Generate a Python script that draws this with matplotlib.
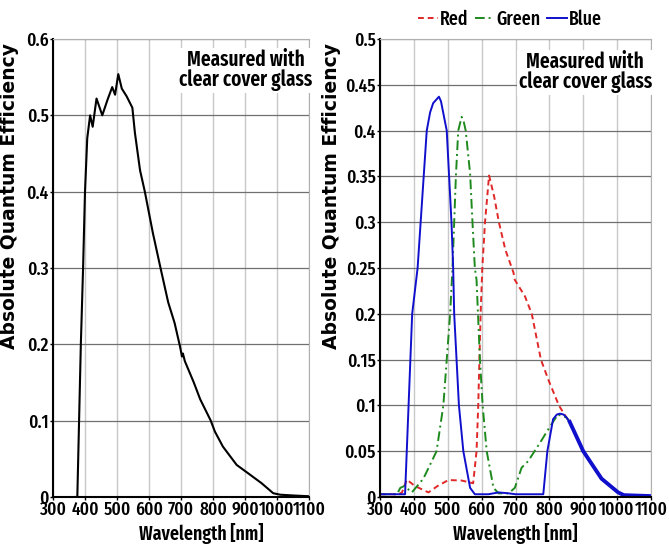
import matplotlib
matplotlib.use("Agg")
import matplotlib.pyplot as plt
import numpy as np

NARROW = ['Fira Sans Extra Condensed', 'DejaVu Sans']
plt.rcParams['font.family'] = NARROW

# left panel: mono sensor
mono_wl = [370, 376, 387, 394, 400, 407, 416, 424, 436, 454, 470, 485, 494, 504,
           515, 530, 548, 556, 572, 587, 612, 636, 660, 680, 697, 703, 706, 712,
           722, 740, 760, 793, 806, 831, 874, 910, 952, 988, 1010, 1050, 1100]
mono_qe = [0.0, 0.0, 0.2, 0.3, 0.4, 0.47, 0.50, 0.485, 0.522, 0.50, 0.52, 0.537, 0.527, 0.554,
           0.535, 0.525, 0.51, 0.477, 0.428, 0.40, 0.346, 0.30, 0.255, 0.228, 0.197, 0.184, 0.188, 0.178,
           0.168, 0.15, 0.128, 0.10, 0.0856, 0.066, 0.042, 0.031, 0.018, 0.005, 0.003, 0.002, 0.001]

# right panel: colour sensor
tail_wl = [860, 900, 954, 1003, 1020, 1060, 1100]
tail_qe = [0.082, 0.05, 0.02, 0.005, 0.002, 0.0015, 0.001]

blue_wl = [300, 370, 374, 395, 411, 438, 448, 457, 474, 480, 497, 511, 516, 519, 533, 546,
           566, 580, 620, 650, 680, 700, 782, 794, 811, 822, 831, 842, 850] + tail_wl
blue_qe = [0.003, 0.003, 0.003, 0.2, 0.25, 0.40, 0.42, 0.43, 0.437, 0.432, 0.40, 0.30, 0.25, 0.2, 0.1, 0.05,
           0.01, 0.003, 0.003, 0.005, 0.004, 0.003, 0.003, 0.05, 0.085, 0.09, 0.091, 0.09, 0.087] + tail_qe

green_wl = [300, 350, 360, 372, 394, 428, 467, 487, 507, 514, 524, 531, 541, 547, 553, 566,
            573, 580, 585, 595, 603, 615, 635, 650, 680, 698, 718, 737, 772, 802, 825, 850] + tail_wl
green_qe = [0.003, 0.003, 0.01, 0.012, 0.005, 0.02, 0.05, 0.1, 0.2, 0.25, 0.35, 0.40, 0.415, 0.41, 0.40, 0.353,
            0.30, 0.25, 0.237, 0.15, 0.1, 0.05, 0.01, 0.004, 0.004, 0.01, 0.032, 0.039, 0.059, 0.077, 0.09, 0.087] + tail_qe

red_wl = [300, 355, 365, 379, 403, 443, 470, 502, 541, 575, 585, 590, 597, 602, 610, 622,
          637, 651, 670, 694, 698, 728, 748, 775, 797, 828, 850] + tail_wl
red_qe = [0.003, 0.003, 0.005, 0.019, 0.012, 0.005, 0.012, 0.0185, 0.018, 0.015, 0.05, 0.1, 0.2, 0.25, 0.3, 0.351,
          0.328, 0.30, 0.27, 0.245, 0.237, 0.219, 0.2, 0.15, 0.128, 0.1, 0.087] + tail_qe

xticks = np.arange(300, 1101, 100)
note = "Measured with\nclear cover glass"

fig = plt.figure(figsize=(6.69, 5.57), dpi=100)
ax1 = fig.add_axes([53/669, 60/557, 256/669, 458/557])
ax2 = fig.add_axes([380/669, 60/557, 271/669, 458/557])


def style(ax, ymax, ystep, ylabels, xlab_x, ylab_x):
    ax.set_xlim(300, 1100)
    ax.set_ylim(0, ymax)
    ax.set_xticks(xticks)
    ax.set_xticklabels([str(v) for v in xticks])
    yt = np.arange(0, ymax + 1e-9, ystep)
    ax.set_yticks(yt)
    ax.set_yticklabels(ylabels)
    ax.tick_params(labelsize=13.5, length=2, width=1, pad=1)
    for lab in ax.get_xticklabels() + ax.get_yticklabels():
        lab.set_fontweight(500)
    ax.xaxis.grid(True, color='#c8c8c8', lw=1)
    ax.yaxis.grid(True, color='#707070', lw=0.9)
    ax.set_axisbelow(True)
    for s in ['top', 'right']:
        ax.spines[s].set_color('#b0b0b0')
    for s in ['left', 'bottom']:
        ax.spines[s].set_color('black')
        ax.spines[s].set_linewidth(1.5)
    ax.set_xlabel("Wavelength [nm]", fontsize=14, fontweight=600)
    ax.xaxis.set_label_coords(xlab_x, -0.056)
    ax.set_ylabel("Absolute Quantum Efficiency", fontsize=13.5, fontweight='bold',
                  family='DejaVu Sans')
    ax.yaxis.set_label_coords(ylab_x, 0.657)


style(ax1, 0.6, 0.1, ['0', '0.1', '0.2', '0.3', '0.4', '0.5', '0.6'], 0.58, -0.133)
style(ax2, 0.5, 0.05, ['0', '0.05', '0.1', '0.15', '0.2', '0.25', '0.3', '0.35', '0.4', '0.45', '0.5'],
      0.5, -0.144)

ax1.plot(mono_wl, mono_qe, color='black', lw=1.5)
ax1.text(0.754, 0.932, note, transform=ax1.transAxes, ha='center', va='center',
         fontsize=15, fontweight=600, linespacing=0.95,
         bbox=dict(facecolor='white', edgecolor='none', pad=1))

ax2.plot(red_wl, red_qe, color='#e02828', lw=1.4, ls=(0, (3, 2)), label='Red')
ax2.plot(green_wl, green_qe, color='#1e8a1e', lw=1.4, ls=(0, (5, 2, 1, 2)), label='Green')
ax2.plot(blue_wl, blue_qe, color='#1010cc', lw=1.4, label='Blue')
ax2.plot(tail_wl, tail_qe, color='#1010cc', lw=2.8)
ax2.text(0.757, 0.928, note, transform=ax2.transAxes, ha='center', va='center',
         fontsize=15, fontweight=600, linespacing=0.95,
         bbox=dict(facecolor='white', edgecolor='none', pad=1))

handles, labels = ax2.get_legend_handles_labels()
fig.legend(handles[:3], labels[:3], loc='center', bbox_to_anchor=(510/669, 1 - 19/557),
           ncol=3, frameon=False, prop={'family': NARROW, 'size': 14, 'weight': 500},
           handlelength=1.0, handletextpad=0.1, columnspacing=0.35, borderpad=0)

fig.savefig("out.png", dpi=100)
